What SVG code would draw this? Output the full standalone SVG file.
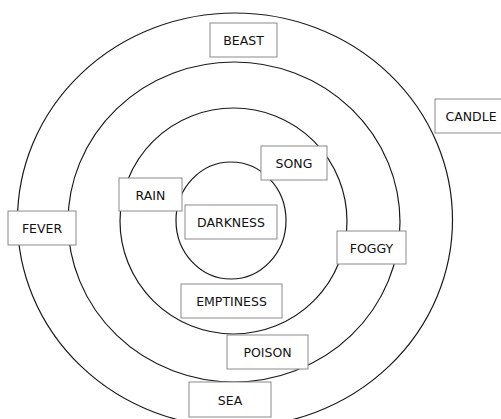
<svg xmlns="http://www.w3.org/2000/svg" width="501" height="419" viewBox="0 0 501 419">
<style>
.ring{fill:none;stroke:#1a1a1a;stroke-width:1.2}
.box{fill:#fff;stroke:#8a8a8a;stroke-width:1}
.lbl{font-family:"DejaVu Sans",Verdana,sans-serif;font-size:12.5px;fill:#111;text-anchor:middle;dominant-baseline:central}
</style>
<rect width="501" height="419" fill="#fff"/>
<g id="rings">
<ellipse class="ring" cx="235" cy="220" rx="217.5" ry="207"/>
<ellipse class="ring" cx="234" cy="222" rx="166" ry="160"/>
<ellipse class="ring" cx="233.5" cy="221" rx="113.5" ry="113"/>
<ellipse class="ring" cx="231" cy="220.5" rx="55" ry="58.5"/>
</g>
<g id="beast"><rect class="box" x="210" y="23" width="67" height="34"/><text class="lbl" x="243.5" y="40.5">BEAST</text></g>
<g id="candle"><rect class="box" x="435" y="99" width="70" height="34"/><text class="lbl" x="471" y="116.5">CANDLE</text></g>
<g id="song"><rect class="box" x="261" y="146" width="66" height="34"/><text class="lbl" x="294" y="163.5">SONG</text></g>
<g id="rain"><rect class="box" x="119" y="178" width="63" height="33"/><text class="lbl" x="150.5" y="195">RAIN</text></g>
<g id="darkness"><rect class="box" x="185" y="205" width="92" height="34"/><text class="lbl" x="231" y="222.5">DARKNESS</text></g>
<g id="fever"><rect class="box" x="8" y="211" width="68" height="34"/><text class="lbl" x="42" y="228.5">FEVER</text></g>
<g id="foggy"><rect class="box" x="337" y="231" width="69" height="33"/><text class="lbl" x="371.5" y="248">FOGGY</text></g>
<g id="emptiness"><rect class="box" x="181" y="284" width="101" height="34"/><text class="lbl" x="231.5" y="301.5">EMPTINESS</text></g>
<g id="poison"><rect class="box" x="227" y="335" width="81" height="34"/><text class="lbl" x="267.5" y="352.5">POISON</text></g>
<g id="sea"><rect class="box" x="189" y="382" width="82" height="35"/><text class="lbl" x="230" y="400">SEA</text></g>
</svg>
